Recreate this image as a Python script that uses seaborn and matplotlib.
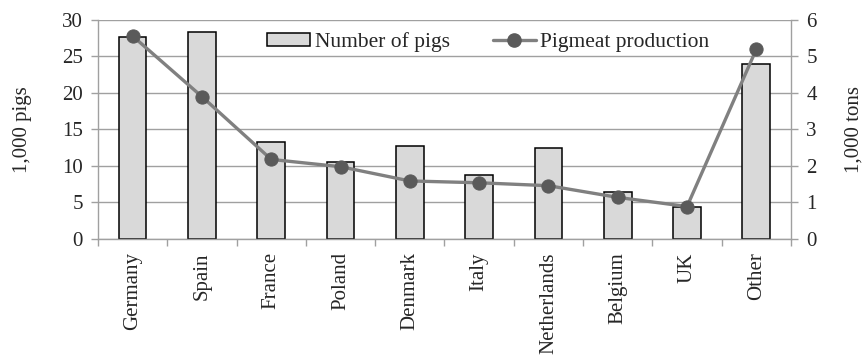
import numpy as np
import pandas as pd
import seaborn as sns
import matplotlib.pyplot as plt
from matplotlib.lines import Line2D
from matplotlib.patches import Patch

# values
countries = ['Germany', 'Spain', 'France', 'Poland', 'Denmark',
             'Italy', 'Netherlands', 'Belgium', 'UK', 'Other']
pigs = [27.7, 28.4, 13.3, 10.6, 12.7, 8.7, 12.5, 6.4, 4.4, 24.0]
pigmeat = [5.56, 3.9, 2.18, 1.98, 1.59, 1.54, 1.46, 1.14, 0.89, 5.2]

df = pd.DataFrame({'country': countries, 'pigs': pigs, 'pigmeat': pigmeat})

sns.set_theme(style='white')
plt.rcParams['font.family'] = ['Liberation Serif', 'DejaVu Serif']
plt.rcParams['font.size'] = 15

AXIS_GREY = '#a0a0a0'
BAR_COLOR = '#d9d9d9'
LINE_COLOR = '#808080'
MARKER_COLOR = '#5a5a5a'
FS = 15

fig, ax = plt.subplots(figsize=(8.64, 3.55), dpi=100)
fig.subplots_adjust(left=0.1134, right=0.9155, bottom=0.3268, top=0.9437)

# bars: number of pigs
sns.barplot(data=df, x='country', y='pigs', color=BAR_COLOR, saturation=1,
            edgecolor='black', linewidth=1.1, width=0.4, ax=ax)
ax.set_xlim(-0.5, len(countries) - 0.5)
ax.set_ylim(0, 30)
ax.set_yticks(np.arange(0, 31, 5))
ax.yaxis.grid(True, color=AXIS_GREY, linewidth=1)
ax.set_axisbelow(True)

ax.set_xlabel('')
ax.set_ylabel('1,000 pigs', fontsize=FS)
ax.yaxis.set_label_coords(-0.095, 0.5)

ax.set_xticks(range(len(countries)))
ax.set_xticklabels(countries, rotation=90, fontsize=FS)
ax.set_xticks(np.arange(-0.5, len(countries), 1), minor=True)
ax.tick_params(axis='x', which='major', length=0, pad=9.5, bottom=True)
ax.tick_params(axis='x', which='minor', length=5, width=1, color=AXIS_GREY,
               bottom=True, direction='out')
ax.tick_params(axis='y', length=5, width=1, color=AXIS_GREY, left=True,
               direction='out', pad=6, labelsize=FS)

for side in ['top', 'right']:
    ax.spines[side].set_visible(False)
for side in ['left', 'bottom']:
    ax.spines[side].set_color(AXIS_GREY)
    ax.spines[side].set_linewidth(1)

# line: pigmeat production on secondary axis
ax2 = ax.twinx()
sns.lineplot(x=df.index, y=df['pigmeat'], ax=ax2, color=LINE_COLOR,
             linewidth=2.4, marker='o', markersize=9.5,
             markerfacecolor=MARKER_COLOR, markeredgecolor=MARKER_COLOR)
ax2.set_ylim(0, 6)
ax2.set_yticks(np.arange(0, 7, 1))
ax2.set_ylabel('1,000 tons', fontsize=FS, rotation=90)
ax2.yaxis.set_label_coords(1.077, 0.5)
ax2.tick_params(axis='y', length=5, width=1, color=AXIS_GREY, right=True,
                direction='out', pad=6, labelsize=FS)
for side in ['top', 'left', 'bottom']:
    ax2.spines[side].set_visible(False)
ax2.spines['right'].set_color(AXIS_GREY)
ax2.spines['right'].set_linewidth(1)

handles = [
    Patch(facecolor=BAR_COLOR, edgecolor='black', linewidth=1.1),
    Line2D([0], [0], color=LINE_COLOR, linewidth=2.4, marker='o',
           markersize=9.5, markerfacecolor=MARKER_COLOR,
           markeredgecolor=MARKER_COLOR),
]
leg = ax2.legend(handles, ['Number of pigs', 'Pigmeat production'],
                 loc='center', bbox_to_anchor=(0.563, 0.9), ncol=2,
                 fontsize=15.5, frameon=True, facecolor='white',
                 edgecolor='none', framealpha=1, fancybox=False,
                 handlelength=2.0, handleheight=0.55, handletextpad=0.2,
                 columnspacing=2.0, borderpad=0.05)

fig.savefig('out.png', dpi=100)
